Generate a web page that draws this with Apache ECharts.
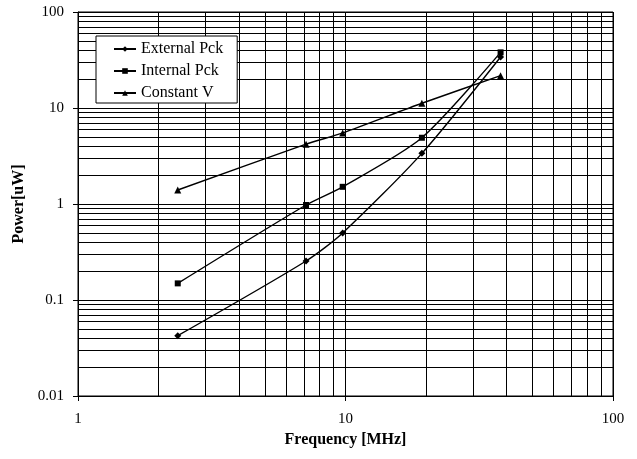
<!DOCTYPE html>
<html>
<head>
<meta charset="utf-8">
<script src="https://cdn.jsdelivr.net/npm/echarts@6/dist/echarts.min.js"></script>
<style>
html,body{margin:0;padding:0;background:#fff;}
#chart{width:637px;height:459px;}
</style>
</head>
<body>
<div id="chart"></div>
<script>
var frequency = [2.36, 7.12, 9.76, 19.3, 38];
var externalPck = [0.0425, 0.255, 0.50, 3.37, 34];
var internalPck = [0.149, 0.976, 1.51, 4.9, 38];
var constantV = [1.4, 4.2, 5.5, 11.2, 21.7];
var seriesNames = ['External Pck', 'Internal Pck', 'Constant V'];

function pairs(ys) {
  return frequency.map(function (x, i) { return [x, ys[i]]; });
}

var font = 'Liberation Serif, Times New Roman, serif';
var chart = echarts.init(document.getElementById('chart'));

function mkSeries(name, ys, symbol, size) {
  return {
    name: name,
    type: 'line',
    data: pairs(ys),
    smooth: 0.25,
    symbol: symbol,
    symbolSize: size,
    lineStyle: { color: '#000', width: 1.4 },
    itemStyle: { color: '#000' },
    emphasis: { disabled: true },
    z: 5
  };
}

chart.setOption({
  animation: false,
  backgroundColor: '#fff',
  grid: { left: 78, top: 12, right: 24, bottom: 63, show: true, borderColor: '#000', borderWidth: 1 },
  legend: {
    orient: 'vertical',
    left: 96,
    top: 36,
    padding: [5, 14, 2, 17],
    itemWidth: 22,
    itemHeight: 7,
    itemGap: 6,
    backgroundColor: '#fff',
    borderColor: '#000',
    borderWidth: 1,
    borderRadius: 0,
    textStyle: { fontFamily: font, fontSize: 16, color: '#000', lineHeight: 16 },
    data: seriesNames
  },
  xAxis: {
    type: 'log',
    logBase: 10,
    min: 1,
    max: 100,
    name: 'Frequency [MHz]',
    nameLocation: 'middle',
    nameGap: 36,
    nameTextStyle: { fontFamily: font, fontSize: 16, fontWeight: 'bold', color: '#000' },
    axisLine: { show: true, lineStyle: { color: '#000', width: 1 } },
    axisTick: { show: true, inside: false, length: 5, lineStyle: { color: '#000' } },
    axisLabel: { fontFamily: font, fontSize: 15, color: '#000', margin: 16 },
    splitLine: { show: true, lineStyle: { color: '#000', width: 1 } },
    minorTick: { show: false, splitNumber: 9 },
    minorSplitLine: { show: true, lineStyle: { color: '#000', width: 1 } }
  },
  yAxis: {
    type: 'log',
    logBase: 10,
    min: 0.01,
    max: 100,
    name: 'Power[uW]',
    nameLocation: 'middle',
    nameGap: 50,
    nameTextStyle: { fontFamily: font, fontSize: 16, fontWeight: 'bold', color: '#000' },
    axisLine: { show: true, lineStyle: { color: '#000', width: 1 } },
    axisTick: { show: true, inside: false, length: 5, lineStyle: { color: '#000' } },
    axisLabel: { fontFamily: font, fontSize: 15, color: '#000', margin: 14 },
    splitLine: { show: true, lineStyle: { color: '#000', width: 1 } },
    minorTick: { show: false, splitNumber: 9 },
    minorSplitLine: { show: true, lineStyle: { color: '#000', width: 1 } }
  },
  series: [
    mkSeries(seriesNames[0], externalPck, 'diamond', 7),
    mkSeries(seriesNames[1], internalPck, 'rect', 6),
    mkSeries(seriesNames[2], constantV, 'triangle', 7)
  ]
});
</script>
</body>
</html>
